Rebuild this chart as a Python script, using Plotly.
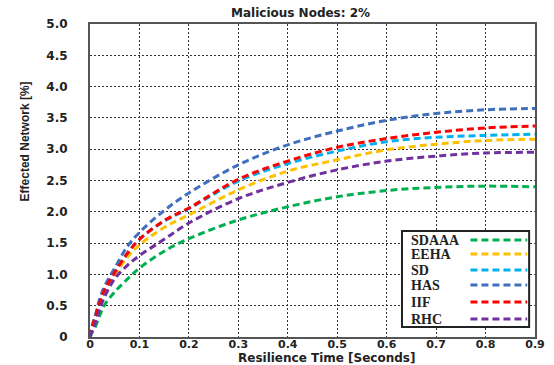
import plotly.graph_objects as go

# ---- data ----
time_s = [0, 0.005, 0.01, 0.02, 0.03, 0.05, 0.075, 0.1, 0.15, 0.2, 0.3, 0.4, 0.5, 0.6, 0.7, 0.8, 0.9]
sdaaa = [0, 0.08, 0.15, 0.35, 0.52, 0.72, 0.92, 1.10, 1.37, 1.57, 1.87, 2.08, 2.24, 2.34, 2.39, 2.41, 2.40]
eeha = [0, 0.16, 0.27, 0.52, 0.72, 0.98, 1.27, 1.47, 1.75, 1.95, 2.35, 2.65, 2.83, 2.99, 3.08, 3.14, 3.16]
sd = [0, 0.18, 0.30, 0.56, 0.76, 1.03, 1.33, 1.56, 1.85, 2.05, 2.49, 2.77, 2.97, 3.12, 3.19, 3.22, 3.24]
has = [0, 0.20, 0.32, 0.62, 0.82, 1.10, 1.44, 1.67, 2.02, 2.30, 2.75, 3.07, 3.29, 3.46, 3.57, 3.63, 3.65]
iif = [0, 0.18, 0.30, 0.56, 0.76, 1.03, 1.33, 1.56, 1.86, 2.06, 2.52, 2.81, 3.03, 3.17, 3.27, 3.34, 3.37]
rhc = [0, 0.12, 0.20, 0.45, 0.65, 0.93, 1.14, 1.30, 1.56, 1.82, 2.21, 2.47, 2.67, 2.81, 2.89, 2.94, 2.95]

series_names = ["SDAAA", "EEHA", "SD", "HAS", "IIF", "RHC"]
series_values = [sdaaa, eeha, sd, has, iif, rhc]
series_colors = ["#00B050", "#FFC000", "#00B0F0", "#3F6FBF", "#FF0000", "#7030A0"]

x_ticks = [0, 0.1, 0.2, 0.3, 0.4, 0.5, 0.6, 0.7, 0.8, 0.9]
x_tick_text = ["0", "0.1", "0.2", "0.3", "0.4", "0.5", "0.6", "0.7", "0.8", "0.9"]
y_ticks = [0, 0.5, 1.0, 1.5, 2.0, 2.5, 3.0, 3.5, 4.0, 4.5, 5.0]
y_tick_text = ["0", "0.5", "1.0", "1.5", "2.0", "2.5", "3.0", "3.5", "4.0", "4.5", "5.0"]

DASH = "7px,4px"
BOLD = "DejaVu Sans"

fig = go.Figure()
for name, vals, col in zip(series_names, series_values, series_colors):
    fig.add_trace(go.Scatter(x=time_s, y=vals, mode="lines", name=name,
                             line=dict(color=col, width=3, dash=DASH, shape="spline"),
                             showlegend=False))

axis_common = dict(showgrid=True, gridcolor="#333333", gridwidth=1.2, griddash="2px,2px",
                   showline=True, linecolor="#555555", linewidth=2, mirror=True,
                   zeroline=False, ticks="")

fig.update_xaxes(range=[0, 0.9], tickvals=x_ticks, ticktext=x_tick_text,
                 ticklabelstandoff=-4,
                 tickfont=dict(family=BOLD, size=11, color="#222222", weight="bold"),
                 **axis_common)
fig.update_yaxes(range=[0, 5.0], tickvals=y_ticks, ticktext=y_tick_text,
                 ticklabelstandoff=18,
                 tickfont=dict(family=BOLD, size=12, color="#222222", weight="bold"),
                 **axis_common)

# custom legend (text left, line sample right)
px_l, px_r, px_t, px_b = 90, 545, 24, 337
def px2x(p):
    return (p - px_l) / (px_r - px_l)
def px2y(p):
    return (px_b - p) / (px_b - px_t)

fig.add_shape(type="rect", xref="paper", yref="paper",
              x0=px2x(409), x1=px2x(539), y0=px2y(327), y1=px2y(231),
              line=dict(color="#222222", width=2), fillcolor="white", layer="above")
row_px = [240, 254, 270, 285, 302, 319]
for name, col, ry in zip(series_names, series_colors, row_px):
    fig.add_annotation(xref="paper", yref="paper", x=px2x(416), y=px2y(ry),
                       text=name, showarrow=False, xanchor="left", yanchor="middle",
                       font=dict(family="Liberation Serif", size=14, color="#222222", weight="bold"))
    fig.add_shape(type="line", xref="paper", yref="paper",
                  x0=px2x(479), x1=px2x(537), y0=px2y(ry), y1=px2y(ry),
                  line=dict(color=col, width=3, dash=DASH), layer="above")

fig.add_annotation(xref="paper", yref="paper", x=px2x(305), y=px2y(13),
                   xanchor="center", yanchor="middle",
                   text="Malicious Nodes: 2%", showarrow=False,
                   font=dict(family=BOLD, size=12, color="#222222", weight="bold"))
fig.add_annotation(xref="paper", yref="paper", x=px2x(332), y=px2y(358),
                   xanchor="center", yanchor="middle",
                   text="Resilience Time [Seconds]", showarrow=False,
                   font=dict(family=BOLD, size=12, color="#222222", weight="bold"))
fig.add_annotation(xref="paper", yref="paper", x=px2x(24), y=px2y(141),
                   xanchor="center", yanchor="middle",
                   text="Effected Network [%]", showarrow=False, textangle=-90,
                   font=dict(family="Liberation Sans Narrow, Liberation Sans", size=12,
                             color="#222222", weight="bold"))

fig.update_layout(width=554, height=365, margin=dict(l=90, r=9, t=24, b=28),
                  plot_bgcolor="white", paper_bgcolor="white", showlegend=False)

fig.write_html("out.html")
